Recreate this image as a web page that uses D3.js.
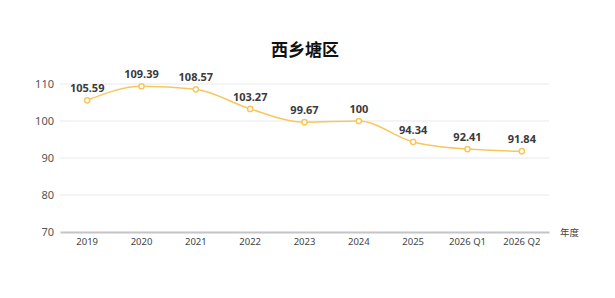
<!DOCTYPE html>
<html>
<head>
<meta charset="utf-8">
<script src="https://cdn.jsdelivr.net/npm/d3@7"></script>
<style>
  body { margin: 0; background: #fff; }
  svg { display: block; font-family: "Noto Sans CJK SC", "Noto Sans", sans-serif; }
</style>
</head>
<body>
<svg id="chart" width="615" height="298"></svg>
<script>
var categories = ["2019", "2020", "2021", "2022", "2023", "2024", "2025", "2026 Q1", "2026 Q2"];
var values = [105.59, 109.39, 108.57, 103.27, 99.67, 100, 94.34, 92.41, 91.84];
var yTicks = [70, 80, 90, 100, 110];
var title = "西乡塘区";
var xName = "年度";

var svg = d3.select("#chart"),
    margin = {top: 84, right: 66, bottom: 66, left: 60},
    width = +svg.attr("width") - margin.left - margin.right,
    height = +svg.attr("height") - margin.top - margin.bottom;

var lineColor = "#f8c75b";

var x = d3.scaleBand()
    .domain(categories)
    .range([0, width]);

var y = d3.scaleLinear()
    .domain([70, 110])
    .range([height, 0]);

svg.append("text")
    .attr("x", 305)
    .attr("y", 56)
    .attr("text-anchor", "middle")
    .attr("font-size", 17)
    .attr("font-weight", "bold")
    .attr("fill", "#111")
    .text(title);

var g = svg.append("g").attr("transform", "translate(" + margin.left + "," + margin.top + ")");

// grid lines
g.append("g")
    .selectAll("line")
    .data(yTicks.filter(function(d) { return d != 70; }))
    .enter().append("line")
    .attr("x1", 0)
    .attr("x2", width)
    .attr("y1", function(d) { return y(d); })
    .attr("y2", function(d) { return y(d); })
    .attr("stroke", "#e6e9f1")
    .attr("stroke-width", 1);

// y axis labels
g.append("g")
    .call(d3.axisLeft(y).tickValues(yTicks).tickSize(0).tickPadding(6))
    .call(function(a) { a.select(".domain").remove(); })
    .selectAll("text")
    .attr("font-size", 11)
    .attr("fill", "#555")
    .attr("font-family", "Noto Sans, sans-serif");

// x axis
var xAxis = g.append("g")
    .attr("transform", "translate(0," + height + ")")
    .call(d3.axisBottom(x).tickSize(0).tickPadding(6));
xAxis.select(".domain")
    .attr("stroke", "#c4c4c9")
    .attr("stroke-width", 2);
xAxis.selectAll("text")
    .attr("font-size", 9.5)
    .attr("fill", "#444")
    .attr("font-family", "Noto Sans, sans-serif");

svg.append("text")
    .attr("x", margin.left + width + 11)
    .attr("y", margin.top + height + 4)
    .attr("font-size", 9.5)
    .attr("fill", "#444")
    .text(xName);

var pts = categories.map(function(c, i) { return {cat: c, v: values[i]}; });

var line = d3.line()
    .x(function(d) { return x(d.cat) + x.bandwidth() / 2; })
    .y(function(d) { return y(d.v); })
    .curve(d3.curveMonotoneX);

g.append("path")
    .datum(pts)
    .attr("fill", "none")
    .attr("stroke", lineColor)
    .attr("stroke-width", 1.5)
    .attr("d", line);

g.append("g")
    .selectAll("circle")
    .data(pts)
    .enter().append("circle")
    .attr("cx", function(d) { return x(d.cat) + x.bandwidth() / 2; })
    .attr("cy", function(d) { return y(d.v); })
    .attr("r", 2.6)
    .attr("fill", "#fff")
    .attr("stroke", lineColor)
    .attr("stroke-width", 1.5);

g.append("g")
    .selectAll("text")
    .data(pts)
    .enter().append("text")
    .attr("x", function(d) { return x(d.cat) + x.bandwidth() / 2; })
    .attr("y", function(d) { return y(d.v) - 8; })
    .attr("text-anchor", "middle")
    .attr("font-size", 11)
    .attr("font-weight", "bold")
    .attr("fill", "#3a3a3a")
    .attr("font-family", "Noto Sans, sans-serif")
    .text(function(d) { return d.v; });
</script>
</body>
</html>
